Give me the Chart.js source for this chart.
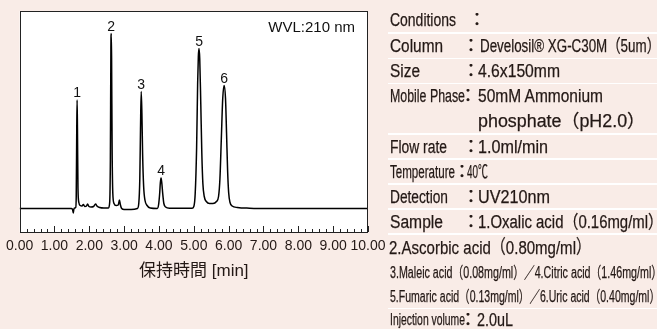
<!DOCTYPE html>
<html><head><meta charset="utf-8">
<script src="https://cdn.jsdelivr.net/npm/chart.js@4"></script>
<style>
html,body{margin:0;padding:0;background:#f9ece7;}
#wrap{position:relative;width:657px;height:329px;overflow:hidden;background:#f9ece7;}
canvas{position:absolute;left:0;top:0;}
.t{position:absolute;white-space:nowrap;color:#231815;font-family:"Liberation Sans",Arial,"Noto Sans CJK JP",sans-serif;transform-origin:0 50%;line-height:22px;height:22px;-webkit-text-stroke:0.25px #231815;}
.ln{position:absolute;left:388px;width:269px;height:1.5px;background:#ffffff;}
</style></head>
<body>
<div id="wrap"><canvas id="c" width="657" height="329"></canvas></div>
<script>
// ---- data ----
const times  = [0.00,1.40,1.48,1.52,1.54,1.555,1.58,1.61,1.625,1.64,1.65,1.66,1.675,1.70,1.74,1.79,1.83,1.87,1.92,1.95,1.99,2.05,2.12,2.18,2.22,2.30,2.42,2.55,2.585,2.605,2.62,2.63,2.64,2.655,2.675,2.71,2.77,2.83,2.865,2.89,2.93,3.00,3.20,3.38,3.42,3.45,3.47,3.49,3.51,3.53,3.56,3.60,3.66,3.75,3.95,3.99,4.02,4.04,4.06,4.08,4.11,4.14,4.19,4.30,4.95,5.00,5.04,5.08,5.11,5.13,5.15,5.17,5.20,5.23,5.26,5.30,5.36,5.45,5.55,5.65,5.71,5.75,5.79,5.83,5.87,5.91,5.94,5.97,6.00,6.04,6.10,6.25,6.60,7.20,10.00];
const signal = [0,0,0,-1,-4.5,-1,0.5,1,12,80,108.5,80,20,6,3,2.5,4,2,2.5,4.5,2,1.5,2,4.5,2.5,1,0.5,0.5,6,50,160,175,150,60,15,5,3,3.5,8.5,4,0,-1,-1,0,5,30,80,117,95,55,22,8,3,0.5,0,4,15,26,30.5,26,14,5,1.5,0.3,0.3,2,15,60,125,152,160,150,105,55,25,12,7,5,5,7,12,30,70,110,123,110,75,38,16,6,2.5,1,0.3,0,0];
const peakNames   = ['1','2','3','4','5','6'];
const peakTimes   = [1.65,2.63,3.49,4.06,5.15,5.87];
const peakHeights = [108.5,175,117,30.5,160,123];
const xTickLabels = ['0.00','1.00','2.00','3.00','4.00','5.00','6.00','7.00','8.00','9.00','10.00'];
const xTitle = '保持時間 [min]';
const wvlText = 'WVL:210 nm';

// ---- right panel text ----
const panel = [
  ['Conditions',390,20,18,66,false],['：',477,20,18,0,true],
  ['Column',390,46,18,53,false],['：',471,46,18,0,true],['Develosil® XG-C30M（5um）',480,46,18,180,false],
  ['Size',390,71,18,30,false],['：',471,71,18,0,true],['4.6x150mm',478,71,18,82,false],
  ['Mobile Phase',390,96,18,75,false],['：',468,96,18,0,true],['50mM Ammonium',478,96,18,125,false],
  ['phosphate（pH2.0）',478,121,18,167,false],
  ['Flow rate',390,147,18,57,false],['：',471,147,18,0,true],['1.0ml/min',478,147,18,70,false],
  ['Temperature',390,172,18,65,false],['：',462,172,18,0,true],['40℃',467,172,18,21,false],
  ['Detection',390,197,18,58,false],['：',471,197,18,0,true],['UV210nm',478,197,18,72,false],
  ['Sample',390,222,18,53,false],['：',471,222,18,0,true],['1.Oxalic acid（0.16mg/ml）',478,222,18,185,false],
  ['2.Ascorbic acid（0.80mg/ml）',389,248,19,202,false],
  ['3.Maleic acid（0.08mg/ml）／4.Citric acid（1.46mg/ml）',390,273,16,272,false],
  ['5.Fumaric acid（0.13mg/ml）／6.Uric acid（0.40mg/ml）',390,297,16,270,false],
  ['Injection volume',390,320,16,75,false],['：',468,320,18,0,true],['2.0uL',477,320,18,36,false]
];
const lineYs = [33,58.5,83.5,134,159,184,209,234,308.5];

const wrap = document.getElementById('wrap');
for (const y of lineYs) {
  const l = document.createElement('div'); l.className='ln'; l.style.top=(y-0.75)+'px'; wrap.appendChild(l);
}
for (const [txt,x,y,fs,w,center] of panel) {
  const d = document.createElement('div'); d.className='t'; d.textContent=txt;
  d.style.fontSize=fs+'px'; d.style.top=(y-11)+'px'; d.style.left='0px';
  wrap.appendChild(d);
  const nat = d.getBoundingClientRect().width;
  d.style.left = (center ? x - nat/2 : x)+'px';
  if (w) d.style.transform = 'scaleX('+(w/nat)+')';
}

const deco = {
  id:'deco',
  beforeDatasetsDraw(chart){
    const {ctx,chartArea:a}=chart;
    ctx.save(); ctx.fillStyle='#ffffff'; ctx.fillRect(a.left,a.top,a.right-a.left,a.bottom-a.top); ctx.restore();
  },
  afterDatasetsDraw(chart){
    const {ctx,chartArea:a}=chart; const xs=chart.scales.x, ys=chart.scales.y;
    ctx.save();
    ctx.strokeStyle='#222'; ctx.lineWidth=1;
    ctx.strokeRect(Math.round(a.left)+0.5,Math.round(a.top)+0.5,Math.round(a.right-a.left)-1,Math.round(a.bottom-a.top));
    ctx.beginPath();
    for (const t of xs.ticks){
      const px=Math.round(xs.getPixelForValue(t.value))+0.5;
      const major=Math.abs(t.value-Math.round(t.value))<1e-6;
      ctx.moveTo(px,a.bottom); ctx.lineTo(px,a.bottom-(major?6:3));
    }
    ctx.stroke();
    ctx.fillStyle='#111'; ctx.font='14px "Liberation Sans", Arial, sans-serif';
    ctx.textAlign='center'; ctx.textBaseline='alphabetic';
    peakNames.forEach((n,i)=>{
      ctx.fillText(n, xs.getPixelForValue(peakTimes[i]), ys.getPixelForValue(peakHeights[i])-3);
    });
    ctx.textAlign='right';
    ctx.font='15px "Liberation Sans", Arial, sans-serif';
    ctx.fillText(wvlText, a.right-13, a.top+21);
    ctx.restore();
  }
};

new Chart(document.getElementById('c'), {
  type:'line',
  data:{ datasets:[{ data: times.map((t,i)=>({x:t,y:signal[i]})), borderColor:'#000', borderWidth:1.5, pointRadius:0, cubicInterpolationMode:'monotone', fill:false }]},
  options:{
    responsive:false, animation:false, devicePixelRatio:1,
    layout:{ padding:{left:18,right:289,top:11,bottom:0} },
    plugins:{ legend:{display:false}, tooltip:{enabled:false} },
    scales:{
      x:{ type:'linear', min:0, max:10,
          grid:{display:false, drawTicks:false}, border:{display:false},
          afterFit(s){ s.height = 97; },
          ticks:{ stepSize:0.2, autoSkip:false, maxRotation:0, minRotation:0, padding:6, color:'#231815',
                  font:{family:'"Liberation Sans", Arial, sans-serif', size:14},
                  callback:(v)=>{ const r=Math.round(v); return Math.abs(v-r)<1e-6 ? xTickLabels[r] : ''; } },
          title:{ display:true, text:xTitle, color:'#231815', padding:{top:0,bottom:47},
                  font:{family:'"Liberation Sans","Noto Sans CJK JP", sans-serif', size:17} } },
      y:{ display:false, min:-23.5, max:197.5 }
    }
  },
  plugins:[deco]
});
</script>
</body></html>
